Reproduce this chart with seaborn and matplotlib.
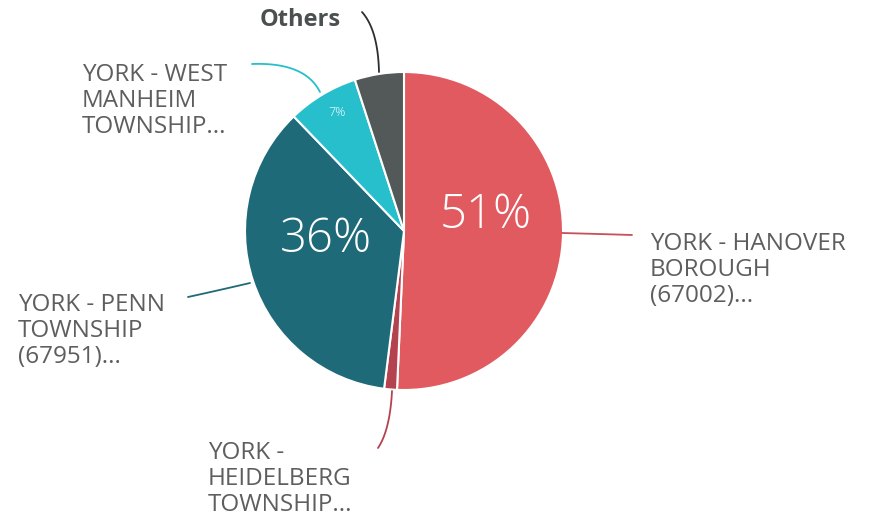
import numpy as np
import matplotlib
matplotlib.use("Agg")
import matplotlib.pyplot as plt
import seaborn as sns

# ==========================================================
# DATA
# ==========================================================

regions = [
    "YORK - HANOVER\nBOROUGH\n(67002)...",
    "YORK -\nHEIDELBERG\nTOWNSHIP...",
    "YORK - PENN\nTOWNSHIP\n(67951)...",
    "YORK - WEST\nMANHEIM\nTOWNSHIP...",
    "Others",
]
shares = [50.7, 1.3, 35.8, 7.2, 5.0]
pct_labels = ["51%", "", "36%", "7%", ""]
colors = ["#e15a5f", "#b5424f", "#1e6a78", "#27bfcc", "#535859"]

sns.set_theme(style="white")
plt.rcParams["font.family"] = ["Open Sans", "DejaVu Sans"]

W, H = 873, 521


def px(x, y):
    # pixel coords (y down) -> axes coords (y up)
    return x, H - y


def curve(p0, p1, p2, n=30):
    t = np.linspace(0, 1, n)[:, None]
    a, b, c = (np.array(px(*p)) for p in (p0, p1, p2))
    pts = (1 - t) ** 2 * a + 2 * (1 - t) * t * b + t ** 2 * c
    return pts[:, 0], pts[:, 1]


fig = plt.figure(figsize=(W / 100, H / 100), dpi=100)
ax = fig.add_axes([0, 0, 1, 1])

cx, cy = px(404, 231)
radius = 159

wedges, _ = ax.pie(
    shares,
    colors=colors,
    startangle=90,
    counterclock=False,
    center=(cx, cy),
    radius=radius,
    wedgeprops=dict(edgecolor="white", linewidth=1.5),
    frame=True,
)
ax.set_xlim(0, W)
ax.set_ylim(0, H)
ax.set_aspect("equal")
ax.axis("off")

# percentage labels inside slices
ax.text(*px(486, 216), pct_labels[0], color="white", fontsize=34,
        fontweight="light", ha="center", va="center")
ax.text(*px(326, 240), pct_labels[2], color="white", fontsize=34,
        fontweight="light", ha="center", va="center")
ax.text(*px(337, 113), pct_labels[3], color="white", fontsize=9,
        fontweight="light", ha="center", va="center")

# leader lines
ax.plot(*curve((562, 233), (600, 234), (632, 235)), color="#c8505a", lw=1.3)
ax.plot(*curve((250, 283), (220, 290), (188, 297)), color=colors[2], lw=1.3)
ax.plot(*curve((320, 92), (305, 62), (252, 64)), color=colors[3], lw=1.3)
ax.plot(*curve((379, 72), (378, 30), (362, 12)), color="#2b2f30", lw=1.3)
ax.plot(*curve((392, 391), (390, 430), (378, 448)), color=colors[1], lw=1.3)

# outer labels
label_style = dict(color="#5e5e5e", fontsize=17.5, ha="left", va="top",
                   linespacing=1.1)
ax.text(*px(650, 232), regions[0], **label_style)
ax.text(*px(208, 441), regions[1], **label_style)
ax.text(*px(18, 293), regions[2], **label_style)
ax.text(*px(82, 63), regions[3], **label_style)
ax.text(*px(300, 20), regions[4], color="#4a4f50", fontsize=17,
        fontweight="bold", ha="center", va="center")

fig.savefig("out.png", dpi=100, facecolor="white")
